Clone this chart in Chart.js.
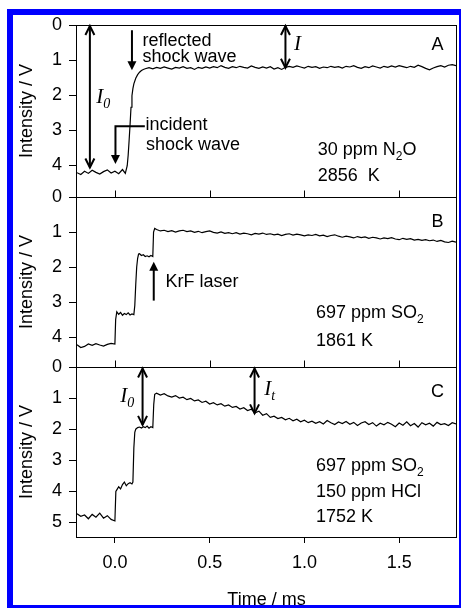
<!DOCTYPE html>
<html lang="en">
<head>
<meta charset="UTF-8">
<title>Shock tube absorption traces</title>
<script src="https://cdn.jsdelivr.net/npm/chart.js@4"></script>
<style>
  body { margin: 0; background: #fff; }
  #page { position: relative; width: 461px; height: 608px; overflow: hidden; background: #fff; }
  #page canvas { position: absolute; left: 0; top: 0; }
  #frame {
    position: absolute; left: 7px; top: 9px; width: 454px; height: 599px;
    box-sizing: border-box; border-style: solid; border-color: #0000ff;
    border-width: 6px 2px 3px 6px; pointer-events: none;
  }
</style>
</head>
<body>
<div id="page">
  <canvas id="panelA" width="461" height="608"></canvas>
  <canvas id="panelB" width="461" height="608"></canvas>
  <canvas id="panelC" width="461" height="608"></canvas>
  <div id="frame"></div>
</div>
<script>
// shared axis
const xTicks = [0, 0.5, 1.0, 1.5];
const yTicksA = [0, 1, 2, 3, 4];
const yTicksB = [0, 1, 2, 3, 4];
const yTicksC = [0, 1, 2, 3, 4, 5];

// panel A: 30 ppm N2O, 2856 K
const timesA = [
  -0.20, -0.18, -0.16, -0.14, -0.12, -0.10, -0.08, -0.06, -0.04, -0.02, 0.00, 0.02, 0.04, 0.055,
  0.065, 0.07, 0.075, 0.08, 0.085, 0.09, 0.095, 0.10, 0.11, 0.12, 0.13, 0.14, 0.15, 0.16,
  0.18, 0.20, 0.22, 0.24, 0.26, 0.28, 0.30, 0.32, 0.34, 0.36,
  0.38, 0.40, 0.42, 0.44, 0.46, 0.48, 0.50, 0.52, 0.54, 0.56,
  0.58, 0.60, 0.62, 0.64, 0.66, 0.68, 0.70, 0.72, 0.74, 0.76,
  0.78, 0.80, 0.82, 0.84, 0.86, 0.88, 0.90, 0.92, 0.94, 0.96,
  0.98, 1.00, 1.02, 1.04, 1.06, 1.08, 1.10, 1.12, 1.14, 1.16,
  1.18, 1.20, 1.22, 1.24, 1.26, 1.28, 1.30, 1.32, 1.34, 1.36,
  1.38, 1.40, 1.42, 1.44, 1.46, 1.48, 1.50, 1.52, 1.54, 1.56,
  1.58, 1.60, 1.62, 1.64, 1.66, 1.68, 1.70, 1.72, 1.74, 1.76,
  1.78, 1.80
];
const intensityA = [
  4.22, 4.27, 4.18, 4.24, 4.15, 4.21, 4.26, 4.19, 4.14, 4.23, 4.18, 4.25, 4.13, 4.24,
  4.02, 3.72, 3.30, 2.85, 2.35, 2.02, 1.82, 1.68, 1.52, 1.42, 1.35, 1.30, 1.27, 1.25,
  1.22, 1.25, 1.21, 1.24, 1.20, 1.23, 1.26, 1.21, 1.23, 1.19,
  1.24, 1.22, 1.27, 1.21, 1.24, 1.20, 1.23, 1.19, 1.22, 1.16,
  1.21, 1.24, 1.19, 1.22, 1.18, 1.21, 1.23, 1.17, 1.21, 1.24,
  1.20, 1.23, 1.19, 1.26, 1.22, 1.27, 1.21, 1.18, 1.21, 1.17,
  1.20, 1.23, 1.18, 1.21, 1.19, 1.24, 1.20, 1.22, 1.18, 1.21,
  1.19, 1.23, 1.18, 1.20, 1.16, 1.21, 1.24, 1.19, 1.22, 1.17,
  1.20, 1.23, 1.18, 1.21, 1.17, 1.20, 1.16, 1.19, 1.22, 1.18,
  1.21, 1.15, 1.19, 1.24, 1.28, 1.23, 1.19, 1.16, 1.20, 1.15,
  1.13, 1.16
];

// panel B: 697 ppm SO2, 1861 K
const timesB = [
  -0.20, -0.18, -0.16, -0.14, -0.12, -0.10, -0.08, -0.06, -0.04, -0.02, 0.00,
  0.004, 0.01, 0.02, 0.03, 0.04, 0.05, 0.06, 0.07, 0.08, 0.09, 0.10,
  0.105, 0.11, 0.115, 0.12, 0.125, 0.13, 0.14, 0.15, 0.16, 0.17, 0.18, 0.19, 0.20,
  0.204, 0.21,
  0.22, 0.24, 0.26, 0.28, 0.30, 0.32, 0.34, 0.36, 0.38, 0.40,
  0.42, 0.44, 0.46, 0.48, 0.50, 0.52, 0.54, 0.56, 0.58, 0.60,
  0.62, 0.64, 0.66, 0.68, 0.70, 0.72, 0.74, 0.76, 0.78, 0.80,
  0.82, 0.84, 0.86, 0.88, 0.90, 0.92, 0.94, 0.96, 0.98, 1.00,
  1.02, 1.04, 1.06, 1.08, 1.10, 1.12, 1.14, 1.16, 1.18, 1.20,
  1.22, 1.24, 1.26, 1.28, 1.30, 1.32, 1.34, 1.36, 1.38, 1.40,
  1.42, 1.44, 1.46, 1.48, 1.50, 1.52, 1.54, 1.56, 1.58, 1.60,
  1.62, 1.64, 1.66, 1.68, 1.70, 1.72, 1.74, 1.76, 1.78, 1.80
];
const intensityB = [
  4.22, 4.30, 4.27, 4.20, 4.24, 4.19, 4.23, 4.26, 4.21, 4.18, 4.20,
  3.50, 3.28, 3.35, 3.30, 3.38, 3.33, 3.36, 3.31, 3.37, 3.34, 3.36,
  3.10, 2.50, 2.00, 1.75, 1.63, 1.62, 1.67, 1.65, 1.70, 1.68, 1.71, 1.67, 1.70,
  1.00, 0.90,
  0.93, 0.97, 0.95, 0.99, 0.96, 1.00, 0.97, 0.95, 0.99, 0.97,
  1.01, 0.98, 1.02, 0.99, 0.97, 1.01, 1.03, 1.00, 1.04, 1.02,
  1.05, 1.02, 1.06, 1.03, 1.05, 1.08, 1.04, 1.06, 1.03, 1.07,
  1.05, 1.08, 1.06, 1.10, 1.07, 1.05, 1.09, 1.06, 1.08, 1.11,
  1.08, 1.10, 1.07, 1.11, 1.09, 1.13, 1.10, 1.08, 1.12, 1.15,
  1.12, 1.14, 1.17, 1.13, 1.16, 1.14, 1.18, 1.15, 1.17, 1.20,
  1.17, 1.19, 1.16, 1.20, 1.22, 1.18, 1.21, 1.19, 1.23, 1.21,
  1.24, 1.22, 1.25, 1.23, 1.27, 1.24, 1.28, 1.30, 1.26, 1.29
];

// panel C: 697 ppm SO2 + 150 ppm HCl, 1752 K
const timesC = [
  -0.20, -0.18, -0.16, -0.14, -0.12, -0.10, -0.08, -0.06, -0.04, -0.02, 0.00,
  0.005, 0.01, 0.02, 0.03, 0.04, 0.05, 0.06, 0.07, 0.08, 0.09, 0.095,
  0.10, 0.105, 0.11, 0.12, 0.13, 0.14, 0.15, 0.16, 0.17, 0.18, 0.19, 0.20,
  0.205, 0.21, 0.22,
  0.24, 0.26, 0.28, 0.30, 0.32, 0.34, 0.36, 0.38, 0.40, 0.42,
  0.44, 0.46, 0.48, 0.50, 0.52, 0.54, 0.56, 0.58, 0.60, 0.62,
  0.64, 0.66, 0.68, 0.70, 0.72, 0.74, 0.76, 0.78, 0.80, 0.82,
  0.84, 0.86, 0.88, 0.90, 0.92, 0.94, 0.96, 0.98, 1.00, 1.02,
  1.04, 1.06, 1.08, 1.10, 1.12, 1.14, 1.16, 1.18, 1.20, 1.22,
  1.24, 1.26, 1.28, 1.30, 1.32, 1.34, 1.36, 1.38, 1.40, 1.42,
  1.44, 1.46, 1.48, 1.50, 1.52, 1.54, 1.56, 1.58, 1.60, 1.62,
  1.64, 1.66, 1.68, 1.70, 1.72, 1.74, 1.76, 1.78, 1.80
];
const intensityC = [
  4.72, 4.80, 4.76, 4.88, 4.74, 4.83, 4.70, 4.86, 4.78, 4.90, 4.95,
  4.00, 3.95, 3.85, 3.92, 3.78, 3.70, 3.82, 3.75, 3.72, 3.76, 3.70,
  2.60, 2.10, 2.00, 1.95, 1.93, 1.96, 1.92, 1.95, 1.90, 1.97, 1.92, 1.95,
  1.20, 0.88, 0.84,
  0.90, 0.86, 0.93, 0.97, 0.92, 1.00, 0.97, 1.05, 1.01, 1.09,
  1.06, 1.14, 1.10, 1.19, 1.15, 1.22, 1.18, 1.26, 1.22, 1.30,
  1.27, 1.35, 1.31, 1.40, 1.36, 1.47, 1.42, 1.55, 1.50, 1.62,
  1.58, 1.66, 1.62, 1.70, 1.65, 1.73, 1.68, 1.76, 1.71, 1.79,
  1.74, 1.81, 1.76, 1.83, 1.72, 1.79, 1.85, 1.77, 1.82, 1.75,
  1.84, 1.78, 1.88, 1.80, 1.76, 1.85, 1.79, 1.90, 1.81, 1.86,
  1.78, 1.84, 1.92, 1.80, 1.87, 1.76, 1.89, 1.82, 1.93, 1.79,
  1.86, 1.81, 1.90, 1.78, 1.85, 1.82, 1.88, 1.79, 1.83
];

const SANS = '"Liberation Sans", Arial, sans-serif';
const SERIF = '"Liberation Serif", "Times New Roman", serif';

// text part styles: [font, vertical shift]
const styles = {
  n: ['18px ' + SANS, 0],
  sub: ['12px ' + SANS, 5],
  it: ['italic 21px ' + SERIF, 0],
  itsub: ['italic 14px ' + SERIF, 5]
};

// annotations, in data units (time ms, intensity V)
const notesA = [
  { type: 'arrow', x: -0.132, y1: 0.03, y2: 4.07, both: true },
  { type: 'text', x: -0.098, y: 2.24, parts: [['I', 'it'], ['0', 'itsub']] },
  { type: 'arrow', x: 0.09, y1: 0.15, y2: 1.29, solid: true },
  { type: 'text', x: 0.146, y: 0.60, parts: [['reflected', 'n']] },
  { type: 'text', x: 0.146, y: 1.05, parts: [['shock wave', 'n']] },
  { type: 'elbow', pts: [[0.158, 2.89], [0.003, 2.89], [0.003, 3.97]] },
  { type: 'text', x: 0.161, y: 3.00, parts: [['incident', 'n']] },
  { type: 'text', x: 0.164, y: 3.57, parts: [['shock wave', 'n']] },
  { type: 'arrow', x: 0.90, y1: 0.03, y2: 1.22, both: true },
  { type: 'text', x: 0.945, y: 0.71, parts: [['I', 'it']] },
  { type: 'text', x: 1.703, y: 0.71, parts: [['A', 'n']], align: 'center' },
  { type: 'text', x: 1.07, y: 3.71, parts: [['30 ppm N', 'n'], ['2', 'sub'], ['O', 'n']] },
  { type: 'text', x: 1.07, y: 4.45, parts: [['2856  K', 'n']] }
];
const notesB = [
  { type: 'arrow', x: 0.205, y1: 2.96, y2: 1.85, solid: true },
  { type: 'text', x: 0.267, y: 2.56, parts: [['KrF laser', 'n']] },
  { type: 'text', x: 1.703, y: 0.85, parts: [['B', 'n']], align: 'center' },
  { type: 'text', x: 1.061, y: 3.47, parts: [['697 ppm SO', 'n'], ['2', 'sub']] },
  { type: 'text', x: 1.061, y: 4.25, parts: [['1861 K', 'n']] }
];
const notesC = [
  { type: 'arrow', x: 0.146, y1: 0.05, y2: 1.86, both: true },
  { type: 'text', x: 0.028, y: 1.12, parts: [['I', 'it'], ['0', 'itsub']] },
  { type: 'arrow', x: 0.737, y1: 0.05, y2: 1.49, both: true },
  { type: 'text', x: 0.788, y: 0.90, parts: [['I', 'it'], ['t', 'itsub']] },
  { type: 'text', x: 1.703, y: 0.95, parts: [['C', 'n']], align: 'center' },
  { type: 'text', x: 1.061, y: 3.33, parts: [['697 ppm SO', 'n'], ['2', 'sub']] },
  { type: 'text', x: 1.061, y: 4.17, parts: [['150 ppm HCl', 'n']] },
  { type: 'text', x: 1.061, y: 4.97, parts: [['1752 K', 'n']] }
];

function drawHead(ctx, px, py, dir, solid) {
  ctx.beginPath();
  ctx.moveTo(px - 4.5, py - dir * 9);
  ctx.lineTo(px, py);
  ctx.lineTo(px + 4.5, py - dir * 9);
  if (solid) { ctx.closePath(); ctx.fill(); } else { ctx.stroke(); }
}

const notesPlugin = {
  id: 'notes',
  afterDatasetsDraw(chart, args, opts) {
    const { ctx, chartArea: a } = chart;
    const x = chart.scales.x, y = chart.scales.y;
    ctx.save();
    ctx.strokeStyle = '#000';
    ctx.fillStyle = '#000';

    // panel box
    ctx.lineWidth = 1;
    const l = Math.round(a.left) - 0.5, r = Math.round(a.right) + 0.5;
    const t = Math.round(a.top) + 0.5, b = Math.round(a.bottom) + 0.5;
    ctx.strokeRect(l, t, r - l, b - t);

    // inward time ticks on upper panels
    if (opts.innerTicks) {
      ctx.beginPath();
      xTicks.forEach(v => {
        const px = Math.round(x.getPixelForValue(v)) + 0.5;
        ctx.moveTo(px, b);
        ctx.lineTo(px, b - 7);
      });
      ctx.stroke();
    }

    ctx.lineWidth = 2;
    ctx.lineJoin = 'miter';
    ctx.textBaseline = 'alphabetic';
    (opts.items || []).forEach(n => {
      if (n.type === 'arrow') {
        const px = x.getPixelForValue(n.x);
        const p1 = y.getPixelForValue(n.y1), p2 = y.getPixelForValue(n.y2);
        const dir = p2 > p1 ? 1 : -1;
        ctx.beginPath();
        ctx.moveTo(px, p1);
        ctx.lineTo(px, n.solid ? p2 - dir * 6 : p2);
        ctx.stroke();
        drawHead(ctx, px, p2, dir, n.solid);
        if (n.both) drawHead(ctx, px, p1, -dir, n.solid);
      } else if (n.type === 'elbow') {
        const pts = n.pts.map(p => [x.getPixelForValue(p[0]), y.getPixelForValue(p[1])]);
        const last = pts[pts.length - 1];
        ctx.beginPath();
        pts.forEach((p, i) => {
          const py = i === pts.length - 1 ? p[1] - 6 : p[1];
          if (i === 0) ctx.moveTo(p[0], py); else ctx.lineTo(p[0], py);
        });
        ctx.stroke();
        drawHead(ctx, last[0], last[1], 1, true);
      } else if (n.type === 'text') {
        let w = 0;
        n.parts.forEach(p => { ctx.font = styles[p[1]][0]; w += ctx.measureText(p[0]).width; });
        let cx = x.getPixelForValue(n.x);
        if (n.align === 'center') cx -= w / 2;
        const cy = y.getPixelForValue(n.y);
        n.parts.forEach(p => {
          const s = styles[p[1]];
          ctx.font = s[0];
          ctx.fillText(p[0], cx, cy + s[1]);
          cx += ctx.measureText(p[0]).width;
        });
      }
    });
    ctx.restore();
  }
};

function makePanel(id, times, values, yMax, yTicks, notes, pad, showTime) {
  const ctx = document.getElementById(id).getContext('2d');
  return new Chart(ctx, {
    type: 'line',
    data: {
      datasets: [{
        data: times.map((t, i) => ({ x: t, y: values[i] })),
        borderColor: '#000',
        borderWidth: 1.2,
        pointRadius: 0,
        fill: false,
        tension: 0
      }]
    },
    options: {
      responsive: false,
      animation: false,
      layout: { padding: pad },
      plugins: {
        legend: { display: false },
        tooltip: { enabled: false },
        notes: { items: notes, innerTicks: !showTime }
      },
      scales: {
        x: {
          type: 'linear',
          min: -0.2,
          max: 1.8,
          display: showTime,
          afterBuildTicks: s => { s.ticks = xTicks.map(v => ({ value: v })); },
          afterFit: s => { s.height = showTime ? 71 : 0; },
          grid: { display: true, drawOnChartArea: false, drawTicks: true, tickLength: 6, color: '#000' },
          border: { display: false },
          ticks: {
            color: '#000',
            font: { size: 18, family: SANS },
            padding: 9,
            maxRotation: 0,
            callback: v => v.toFixed(1)
          },
          title: {
            display: true,
            text: 'Time / ms',
            color: '#000',
            font: { size: 18, family: SANS },
            padding: { top: 0, bottom: -3 }
          }
        },
        y: {
          type: 'linear',
          reverse: true,
          min: 0,
          max: yMax,
          afterBuildTicks: s => { s.ticks = yTicks.map(v => ({ value: v })); },
          afterFit: s => { s.width = 77; },
          grid: { drawOnChartArea: false, drawTicks: true, tickLength: 8, color: '#000' },
          border: { display: false },
          ticks: {
            color: '#000',
            font: { size: 18, family: SANS },
            padding: 7
          },
          title: {
            display: true,
            text: 'Intensity / V',
            color: '#000',
            font: { size: 18, family: SANS },
            padding: { top: 16, bottom: 0 }
          }
        }
      }
    },
    plugins: [notesPlugin]
  });
}

makePanel('panelA', timesA, intensityA, 172 / 35, yTicksA, notesA,
  { top: 25, left: 0, right: 5, bottom: 411 }, false);
makePanel('panelB', timesB, intensityB, 170 / 35, yTicksB, notesB,
  { top: 197, left: 0, right: 5, bottom: 241 }, false);
makePanel('panelC', timesC, intensityC, 170 / 31.1, yTicksC, notesC,
  { top: 367, left: 0, right: 5, bottom: 0 }, true);
</script>
</body>
</html>
